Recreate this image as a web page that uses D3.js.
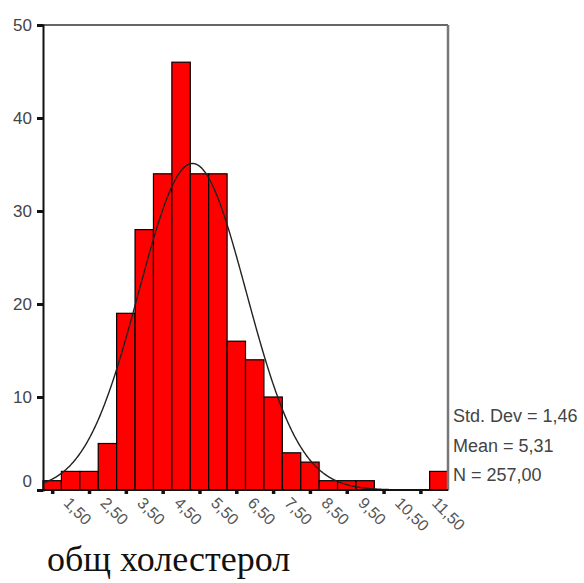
<!DOCTYPE html>
<html>
<head>
<meta charset="utf-8">
<script src="https://cdn.jsdelivr.net/npm/d3@7"></script>
<style>
  html, body { margin: 0; padding: 0; background: #fff; }
  svg { display: block; }
</style>
</head>
<body>
<script>
// Histogram of total cholesterol with fitted normal curve
const binCenters = [1.5, 2.0, 2.5, 3.0, 3.5, 4.0, 4.5, 5.0, 5.5, 6.0, 6.5, 7.0,
                    7.5, 8.0, 8.5, 9.0, 9.5, 10.0, 10.5, 11.0, 11.5, 12.0];
const counts = [1, 2, 2, 5, 19, 28, 34, 46, 34, 34, 16, 14,
                10, 4, 3, 1, 1, 1, 0, 0, 0, 2];
const binWidth = 0.5;

const xTickValues = [1.5, 2.5, 3.5, 4.5, 5.5, 6.5, 7.5, 8.5, 9.5, 10.5, 11.5];
const xTickLabels = ["1,50", "2,50", "3,50", "4,50", "5,50", "6,50", "7,50",
                     "8,50", "9,50", "10,50", "11,50"];
const yTickValues = [0, 10, 20, 30, 40, 50];

const statMean = 5.31;
const statSd = 1.46;
const statN = 257;
const statLines = ["Std. Dev = 1,46", "Mean = 5,31", "N = 257,00"];
const axisTitle = "общ холестерол";

const W = 584, H = 583;
const svg = d3.select("body").append("svg").attr("width", W).attr("height", H);

const x = d3.scaleLinear().domain([1.25, 12.25]).range([43, 448]);
const y = d3.scaleLinear().domain([0, 50]).range([490, 25]);

// bars
svg.append("g").selectAll("rect")
  .data(binCenters.map((c, i) => ({ c, n: counts[i] })).filter(d => d.n > 0))
  .join("rect")
  .attr("x", d => x(d.c - binWidth / 2))
  .attr("width", d => x(d.c + binWidth / 2) - x(d.c - binWidth / 2))
  .attr("y", d => y(d.n))
  .attr("height", d => y(0) - y(d.n))
  .attr("fill", "#ff0000")
  .attr("stroke", "#000")
  .attr("stroke-width", 1.2);

// fitted normal curve
const scaleK = statN * binWidth / (statSd * Math.sqrt(2 * Math.PI));
const curvePts = d3.range(x.domain()[0], x.domain()[1] + 0.001, 0.02)
  .map(v => [v, scaleK * Math.exp(-0.5 * Math.pow((v - statMean) / statSd, 2))]);
svg.append("path")
  .datum(curvePts)
  .attr("fill", "none")
  .attr("stroke", "#222")
  .attr("stroke-width", 1.4)
  .attr("d", d3.line().x(d => x(d[0])).y(d => y(d[1])));

// frame: top and right edges
svg.append("line")
  .attr("x1", x.range()[0]).attr("x2", x.range()[1])
  .attr("y1", y(50)).attr("y2", y(50))
  .attr("stroke", "#666").attr("stroke-width", 2);
svg.append("line")
  .attr("x1", x.range()[1]).attr("x2", x.range()[1])
  .attr("y1", y(50)).attr("y2", y(0))
  .attr("stroke", "#777").attr("stroke-width", 2.5);

// y axis
const yAxis = svg.append("g")
  .attr("transform", `translate(${x.range()[0]},0)`)
  .call(d3.axisLeft(y).tickValues(yTickValues).tickSize(6).tickPadding(5).tickFormat(d3.format("d")));
yAxis.select(".domain").attr("stroke", "#111").attr("stroke-width", 2);
yAxis.selectAll(".tick line").attr("stroke", "#111").attr("stroke-width", 3);
yAxis.selectAll(".tick text")
  .attr("font-family", "'Liberation Sans', Arial, sans-serif")
  .attr("font-size", 17).attr("fill", "#444")
  .attr("y", d => d === 0 ? -9 : 0);

// x axis
const xAxis = svg.append("g")
  .attr("transform", `translate(0,${y(0)})`)
  .call(d3.axisBottom(x).tickValues(xTickValues).tickSize(4)
    .tickFormat((d, i) => xTickLabels[i]));
xAxis.select(".domain").attr("stroke", "#111").attr("stroke-width", 2)
  .attr("d", `M${x.range()[0]},0H${x.range()[1]}`);
xAxis.selectAll(".tick line").attr("stroke", "#111").attr("stroke-width", 3.5);
xAxis.selectAll(".tick text")
  .attr("font-family", "'Liberation Sans', Arial, sans-serif")
  .attr("font-size", 16).attr("fill", "#555")
  .attr("text-anchor", "start")
  .attr("x", 0).attr("y", 0).attr("dy", 0)
  .attr("transform", "translate(10,14) rotate(45)");

// summary statistics
svg.append("g").selectAll("text")
  .data(statLines)
  .join("text")
  .attr("x", 453)
  .attr("y", (d, i) => 422 + i * 29.5)
  .attr("font-family", "'Liberation Sans', Arial, sans-serif")
  .attr("font-size", 18)
  .attr("fill", "#444")
  .text(d => d);

// axis title
svg.append("text")
  .attr("x", 47).attr("y", 571)
  .attr("font-family", "'Liberation Serif', 'Times New Roman', serif")
  .attr("font-size", 36)
  .attr("fill", "#111")
  .text(axisTitle);
</script>
</body>
</html>
